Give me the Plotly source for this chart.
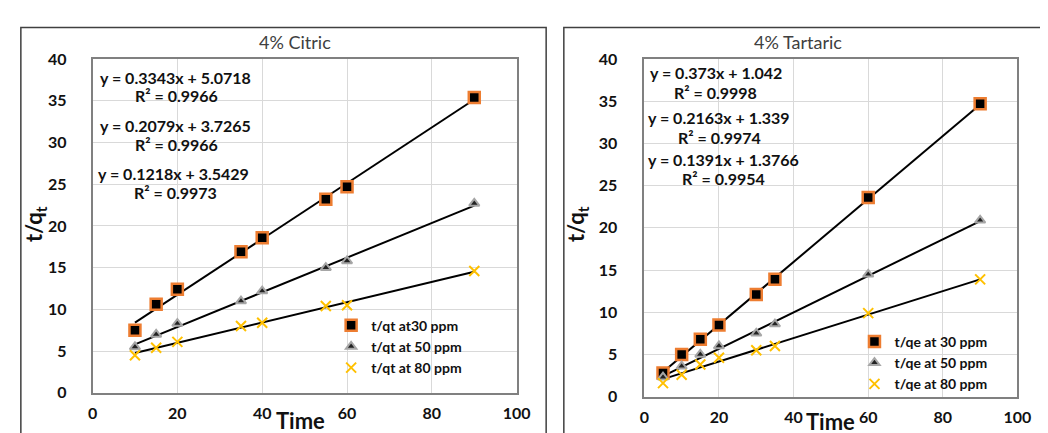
import plotly.graph_objects as go

# ---------------- data ----------------
citric_time = [10, 15, 20, 35, 40, 55, 60, 90]
citric_30 = [7.5, 10.6, 12.4, 16.9, 18.6, 23.2, 24.7, 35.4]
citric_50 = [5.5, 7.0, 8.3, 11.0, 12.2, 15.0, 15.8, 22.7]
citric_80 = [4.5, 5.4, 6.1, 8.0, 8.4, 10.4, 10.5, 14.6]
citric_slopes = [0.3343, 0.2079, 0.1218]
citric_intercepts = [5.0718, 3.7265, 3.5429]
citric_r2 = [0.9966, 0.9966, 0.9973]

tart_time = [5, 10, 15, 20, 30, 35, 60, 90]
tart_30 = [2.8, 5.0, 6.8, 8.5, 12.1, 13.9, 23.6, 34.7]
tart_50 = [2.3, 3.6, 5.0, 6.0, 7.5, 8.6, 14.5, 20.9]
tart_80 = [1.6, 2.6, 3.8, 4.6, 5.5, 6.0, 9.9, 13.9]
tart_slopes = [0.373, 0.2163, 0.1391]
tart_intercepts = [1.042, 1.339, 1.3766]
tart_r2 = [0.9998, 0.9974, 0.9954]
tart_eq_text = ["y = 0.373x + 1.042", "y = 0.2163x + 1.339", "y = 0.1391x + 1.3766"]
citric_eq_text = ["y = 0.3343x + 5.0718", "y = 0.2079x + 3.7265", "y = 0.1218x + 3.5429"]

citric_names = ["t/qt at30 ppm", "t/qt at 50 ppm", "t/qt at 80 ppm"]
tart_names = ["t/qe at 30 ppm", "t/qe at 50 ppm", "t/qe at 80 ppm"]

x_ticks = [0, 20, 40, 60, 80, 100]
y_ticks = [0, 5, 10, 15, 20, 25, 30, 35, 40]

# ---------------- styling ----------------
W, H = 1048, 433
FONT = "Lato"
ORANGE = "#ED7D31"
YELLOW = "#FFC000"

def px_x(p):
    return p / W

def px_y(p):
    return 1 - p / H

marker_styles = [
    dict(symbol="square", size=11, color="#000000", line=dict(color=ORANGE, width=2.5)),
    dict(symbol="triangle-up", size=9, color="#222222", line=dict(color="#a6a6a6", width=2)),
    dict(symbol="x-thin", size=10, color=YELLOW, line=dict(color=YELLOW, width=2)),
]

fig = go.Figure()

def add_panel(xs, series, names, slopes, intercepts, xa, ya, legend):
    for s, b in zip(slopes, intercepts):
        lx = [min(xs), max(xs)]
        ly = [s * v + b for v in lx]
        fig.add_trace(go.Scatter(x=lx, y=ly, mode="lines", line=dict(color="black", width=2),
                                 showlegend=False, xaxis=xa, yaxis=ya, hoverinfo="skip"))
    for ys, nm, ms in zip(series, names, marker_styles):
        fig.add_trace(go.Scatter(x=xs, y=ys, mode="markers", name=nm, marker=ms,
                                 xaxis=xa, yaxis=ya, legend=legend))

add_panel(citric_time, [citric_30, citric_50, citric_80], citric_names,
          citric_slopes, citric_intercepts, "x", "y", "legend")
add_panel(tart_time, [tart_30, tart_50, tart_80], tart_names,
          tart_slopes, tart_intercepts, "x2", "y2", "legend2")

axis_common = dict(showgrid=True, gridcolor="#d9d9d9", gridwidth=1, zeroline=False,
                   showline=True, linecolor="#808080", linewidth=1.5, mirror=True,
                   ticks="", tickfont=dict(family=FONT, size=16, color="#111111", weight="bold"))

left_dom_x = [px_x(81), px_x(513)]
right_dom_x = [px_x(643), px_x(1023)]
left_dom_y = [px_y(392), px_y(43)]
right_dom_y = [px_y(396), px_y(43)]

legend_font = dict(family=FONT, size=14, color="#111111", weight="bold")

fig.update_layout(
    width=W, height=H, margin=dict(l=0, r=0, t=0, b=0),
    paper_bgcolor="white", plot_bgcolor="white",
    font=dict(family=FONT),
    xaxis=dict(domain=left_dom_x, range=[0, 100], tickvals=x_ticks, anchor="y",
               ticklabelstandoff=5, **axis_common),
    yaxis=dict(domain=left_dom_y, range=[0, 40], tickvals=y_ticks, anchor="x",
               ticklabelstandoff=21, **axis_common),
    xaxis2=dict(domain=right_dom_x, range=[0, 100], tickvals=x_ticks, anchor="y2",
                ticklabelstandoff=5, **axis_common),
    yaxis2=dict(domain=right_dom_y, range=[0, 40], tickvals=y_ticks, anchor="x2",
                ticklabelstandoff=22, **axis_common),
    legend=dict(x=px_x(324), y=px_y(305), xanchor="left", yanchor="top",
                bgcolor="rgba(0,0,0,0)", font=legend_font, tracegroupgap=0, itemwidth=30),
    legend2=dict(x=px_x(857), y=px_y(322), xanchor="left", yanchor="top",
                 bgcolor="rgba(0,0,0,0)", font=legend_font, tracegroupgap=0, itemwidth=30),
)

# panel borders
fig.add_shape(type="rect", xref="paper", yref="paper", x0=px_x(8), x1=px_x(543),
              y0=px_y(445), y1=px_y(10), line=dict(color="#404040", width=1.5))
fig.add_shape(type="rect", xref="paper", yref="paper", x0=px_x(561), x1=px_x(1060),
              y0=px_y(445), y1=px_y(10), line=dict(color="#404040", width=1.5))

ann = []
def text(x, y, s, size, bold=True, color="#111111", angle=0, xanchor="center"):
    ann.append(dict(x=px_x(x), y=px_y(y), xref="paper", yref="paper", text=s, showarrow=False,
                    xanchor=xanchor, yanchor="middle", textangle=angle,
                    font=dict(family=FONT, size=size, color=color, weight="bold" if bold else "normal")))

# titles
text(287, 25, "4% Citric", 18, bold=False, color="#404040")
text(800, 25, "4% Tartaric", 18, bold=False, color="#404040")
# axis titles
text(293, 421, "Time", 22)
text(833, 422, "Time", 22)
text(22, 216, "t/q<sub>t</sub>", 22, angle=-90)
text(574, 216, "t/q<sub>t</sub>", 22, angle=-90)

# equations - citric
c_eq_y = [62, 112, 163]
c_r_y = [81, 132, 183]
c_eq_x = [165, 165, 163]
c_r_x = [167, 167, 165]
for i in range(3):
    text(c_eq_x[i], c_eq_y[i], citric_eq_text[i], 16)
    text(c_r_x[i], c_r_y[i], "R² = %.4f" % citric_r2[i], 16)

# equations - tartaric
t_eq_y = [57, 104, 148]
t_r_y = [78, 125, 168]
t_eq_x = [647, 645, 645]
t_r_x = [715, 720, 724]
for i in range(3):
    text(t_eq_x[i], t_eq_y[i], tart_eq_text[i], 16, xanchor="left")
    text(t_r_x[i], t_r_y[i], "R² = %.4f" % tart_r2[i], 16)

fig.update_layout(annotations=ann)

fig.write_html("out.html")
